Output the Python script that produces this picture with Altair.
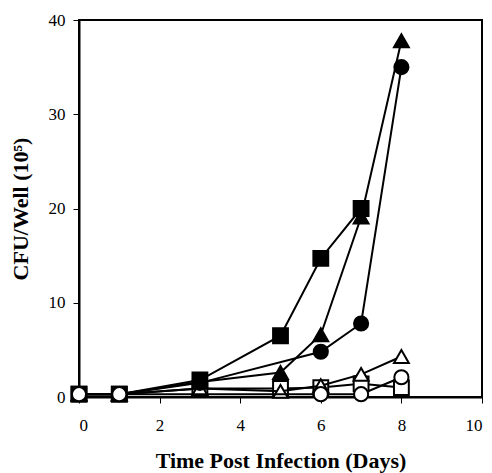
import altair as alt
import pandas as pd

series_names = ["osq", "otri", "ftri", "fcir", "fsq", "ocir"]
series_shapes = {"fsq": "square", "ftri": "triangle-up", "fcir": "circle",
                 "otri": "triangle-up", "osq": "square", "ocir": "circle"}
series_fills = {"fsq": "black", "ftri": "black", "fcir": "black",
                "otri": "white", "osq": "white", "ocir": "white"}

fsq_days = [0, 1, 3, 5, 6, 7]
fsq_vals = [0.3, 0.3, 1.8, 6.5, 14.7, 20.0]
ftri_days = [0, 1, 3, 5, 6, 7, 8]
ftri_vals = [0.3, 0.3, 1.6, 2.6, 6.6, 19.1, 37.8]
fcir_days = [0, 1, 3, 6, 7, 8]
fcir_vals = [0.3, 0.3, 1.5, 4.8, 7.8, 35.0]
otri_days = [0, 1, 3, 5, 6, 7, 8]
otri_vals = [0.3, 0.3, 0.9, 0.6, 1.2, 2.4, 4.3]
osq_days = [0, 1, 3, 5, 6, 7, 8]
osq_vals = [0.3, 0.3, 0.9, 0.9, 1.0, 1.4, 1.0]
ocir_days = [0, 1, 6, 7, 8]
ocir_vals = [0.3, 0.3, 0.3, 0.3, 2.1]

data = {
    "fsq": (fsq_days, fsq_vals),
    "ftri": (ftri_days, ftri_vals),
    "fcir": (fcir_days, fcir_vals),
    "otri": (otri_days, otri_vals),
    "osq": (osq_days, osq_vals),
    "ocir": (ocir_days, ocir_vals),
}

x = alt.X("day:Q", scale=alt.Scale(domain=[0, 10], nice=False),
          axis=alt.Axis(values=[0, 2, 4, 6, 8, 10], title="Time Post Infection (Days)", grid=False))
y = alt.Y("cfu:Q", scale=alt.Scale(domain=[0, 40], nice=False),
          axis=alt.Axis(values=[0, 10, 20, 30, 40], title="CFU/Well (10⁵)", grid=False))

layers = []
for name in series_names:
    days, vals = data[name]
    sub = pd.DataFrame({"day": days, "cfu": vals})
    base = alt.Chart(sub)
    line = base.mark_line(color="black", strokeWidth=2).encode(x=x, y=y)
    pts = base.mark_point(
        shape=series_shapes[name], fill=series_fills[name], filled=True,
        stroke="black", strokeWidth=2, opacity=1,
        size=220 if series_shapes[name] != "circle" else 200,
    ).encode(x=x, y=y)
    layers += [line, pts]

chart = alt.layer(*layers).properties(
    width=403, height=377,
    autosize=alt.AutoSizeParams(type="none"),
    padding={"left": 79, "top": 20, "right": 10, "bottom": 76},
).configure_view(
    stroke="black", strokeWidth=2
).configure_axis(
    domainColor="black", domainWidth=2, tickColor="black", tickWidth=1,
    tickSize=6, labelFont="Liberation Serif", labelFontSize=17, labelColor="black",
    titleFont="Liberation Serif", titleFontSize=22, titleFontWeight="bold", titleColor="black",
).configure_axisY(
    labelPadding=8, titlePadding=16
).configure_axisX(
    labelPadding=14, titlePadding=17
)

chart.save("out.html", embed_options={"renderer": "svg", "actions": False})
